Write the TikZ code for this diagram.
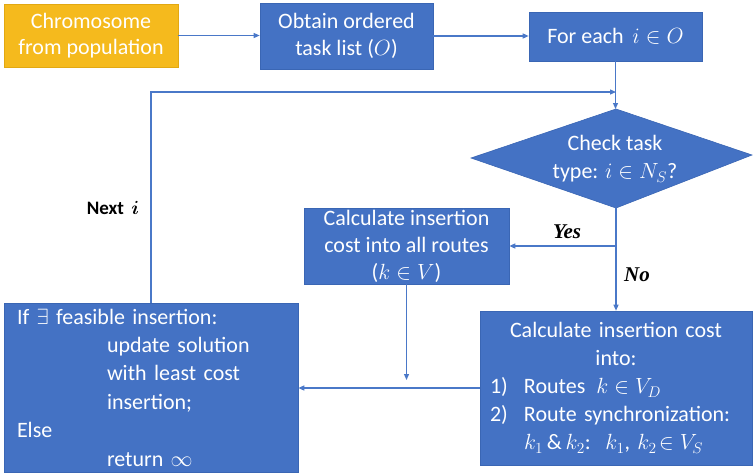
\RequirePackage{fix-cm}
\documentclass[tikz,border=0pt]{standalone}
\usepackage{amsmath}
\usepackage{fontspec}
\setmainfont{Carlito}
\newfontfamily\labelserif{Liberation Serif}
\usetikzlibrary{arrows.meta}
\definecolor{boxblue}{HTML}{4472C4}
\definecolor{boxedge}{HTML}{3A66B4}
\definecolor{gold}{HTML}{F5BA1D}
\definecolor{goldedge}{HTML}{E2A812}
\definecolor{linkblue}{HTML}{4A78C8}

\begin{document}
\begin{tikzpicture}[x=1pt,y=-1pt,
  box/.style={draw=boxedge, fill=boxblue, line width=0.6pt, text=white,
    font=\fontsize{22}{27}\selectfont, inner sep=0pt, align=center},
  link/.style={draw=linkblue, line width=1.2pt, -{Triangle[length=6pt,width=5pt]}},
  lbl/.style={font=\fontsize{20}{24}\selectfont, text=black}]
\useasboundingbox (0,0) rectangle (753,474);

% top row
\node[box, fill=gold, draw=goldedge, minimum width=174pt, minimum height=63pt,
  font=\fontsize{22}{26}\selectfont] (chrom) at (91,35.5) {Chromosome\\from population};
\node[box, minimum width=173pt, minimum height=66pt] (obtain) at (346.5,36)
  {Obtain ordered\\task list ($O$)};
\node[box, minimum width=173pt, minimum height=49pt] (each) at (615.5,36.5)
  {For each \,$i\in O$};

% decision diamond
\coordinate (cl) at (471,158);
\coordinate (ct) at (616,109);
\coordinate (cr) at (752,155);
\coordinate (cb) at (616,208);
\path[draw=boxedge, fill=boxblue, line width=0.6pt] (cl) -- (ct) -- (cr) -- (cb) -- cycle;
\node[text=white, font=\fontsize{22}{28}\selectfont, align=center, inner sep=0pt]
  (check) at (615,159) {Check task\\type: $i\in N_S$?};

% insertion into all routes
\node[box, minimum width=205pt, minimum height=76pt] (allroutes) at (406.5,246)
  {Calculate insertion\\cost into all routes\\($k\in V$)};

% insertion into drone routes / synchronisation
\node[box, minimum width=272pt, minimum height=154pt, align=left, text width=252pt,
  font=\fontsize{22}{28}\selectfont] (calc) at (616,388)
  {\makebox[\linewidth]{Calculate insertion cost}\\
   \makebox[\linewidth]{into:}\\
   \makebox[34pt][l]{1)}Routes \,$k\in V_D$\\
   \makebox[34pt][l]{2)}Route synchronization:\\
   \hspace*{34pt}$k_1$\,\&\,$k_2$: \,$k_1$, $k_2\!\in V_S$};

% update step
\node[box, minimum width=294pt, minimum height=169pt, align=left, text width=268pt,
  font=\fontsize{22}{28.4}\selectfont] (update) at (151,387.5)
  {If $\exists$ feasible insertion:\\
   \hspace*{90pt}update solution\\
   \hspace*{90pt}with least cost\\
   \hspace*{90pt}insertion;\\
   Else\\
   \hspace*{90pt}return $\infty$};

% connectors
\coordinate (join) at (616,92);
\coordinate (yes) at (616,246);
\coordinate (drop) at (0,380);

\draw[link] (chrom.east) -- (obtain.west |- chrom.east);
\draw[link] (obtain.east) -- (each.west |- obtain.east);
\draw[link] (each.south) -- (each.south |- ct);
\draw[link] (cb) -- (calc.north);
\draw[link] (yes) -- (allroutes.east);
\draw[link] (allroutes.south) -- (allroutes.south |- drop);
\draw[link] (calc.west) -- (calc.west -| update.east);
\draw[link] (update.north) |- (join);

% branch labels
\node[lbl, font=\fontsize{21}{24}\selectfont\labelserif\bfseries\itshape] (yeslbl) at (567,232) {Yes};
\node[lbl, font=\fontsize{21}{24}\selectfont\labelserif\bfseries\itshape] (nolbl) at (637,275) {No};
\node[lbl, font=\fontsize{19}{24}\selectfont\bfseries] (nextlbl) at (113,208) {Next \,$\boldsymbol{i}$};
\end{tikzpicture}
\end{document}
